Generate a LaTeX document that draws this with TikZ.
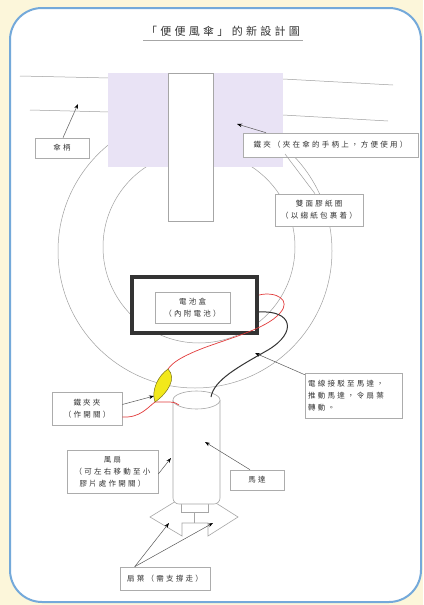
\documentclass[tikz,border=0pt]{standalone}
\usepackage{fontspec}
\newfontfamily\cjk[LetterSpace=30]{Noto Sans CJK TC}
\newfontfamily\cjktitle[LetterSpace=30]{Noto Sans CJK TC}
\usetikzlibrary{arrows.meta}
\definecolor{paper}{HTML}{FCF6DA}
\definecolor{frameblue}{HTML}{74A9DA}
\definecolor{lavender}{HTML}{E9E3F5}
\definecolor{wirered}{HTML}{E23A3A}
\definecolor{clipyellow}{HTML}{F2E81A}
\definecolor{ink}{HTML}{333333}
\begin{document}
\begin{tikzpicture}[x=1pt,y=-1pt,
  thinline/.style={draw=gray!75, line width=0.5pt},
  lbl/.style={draw=gray!65, line width=0.6pt, fill=white, inner sep=1pt,
    text=ink, align=center, font=\cjk\fontsize{7.5}{12}\selectfont},
  arr/.style={draw=gray!70!black, line width=0.5pt,
    -{Stealth[length=5pt,width=3.6pt,color=black]}},
  battbox/.style={draw=ink, line width=4pt, fill=white, inner sep=0pt},
  redwire/.style={draw=wirered, line width=0.7pt},
  blackwire/.style={draw=ink, line width=1pt}]
\useasboundingbox (0,0) rectangle (423,605);
% page and frame
\fill[paper] (0,0) rectangle (423,605);
\draw[frameblue, line width=2pt, fill=white, rounded corners=32] (10,8) rectangle (421,602);

% title
\node[font=\cjktitle\fontsize{11}{13}\selectfont, text=ink] (title) at (223,31) {「便便風傘」的新設計圖};
\draw[gray!70, line width=0.6pt] (143,40) -- (303,40);

% canopy edges
\draw[thinline] (20,76) -- (110,78);
\draw[thinline] (30,110) -- (110,112);
\draw[thinline] (283,79) -- (393,85);
\draw[thinline] (283,115) -- (388,121);

% paper rings
\draw[thinline] (195,251) circle[radius=137];
\draw[thinline] (199,247) circle[radius=96];

% clip area and handle
\fill[lavender] (108,73) rectangle (283,167);
\draw[gray!70, line width=0.6pt, fill=white] (168,73) rectangle (213,221);

% labels
\node[lbl, minimum width=54, minimum height=20] (handle) at (62,148) {傘柄};
\node[lbl, minimum width=175, minimum height=24] (clip) at (330.5,145) {鐵夾（夾在傘的手柄上，方便使用）};
\node[lbl, minimum width=88, minimum height=32] (ring) at (319,210) {雙面膠紙圈\\（以縐紙包裹着）};
\node[battbox, minimum width=125, minimum height=56] (batt) at (194.5,305) {};
\node[lbl, minimum width=75, minimum height=31] (battlbl) at (192.5,307.5) {電池盒\\（內附電池）};
\node[lbl, minimum width=97, minimum height=45, align=left, text width=91] (wire) at (353.5,395.5) {電線接駁至馬達，\\推動馬達，令扇葉\\轉動。};
\node[lbl, minimum width=70, minimum height=33] (switch) at (87,408.5) {鐵夾夾\\（作開關）};
\node[lbl, minimum width=91, minimum height=43] (fan) at (112.5,471.5) {風扇\\（可左右移動至小\\膠片處作開關）};
\node[lbl, minimum width=54, minimum height=20] (motor) at (257,480) {馬達};
\node[lbl, minimum width=90, minimum height=23] (blade) at (165,578.5) {扇葉（需支撐走）};

% fan blades and shaft
\draw[gray!70, line width=0.6pt, fill=white]
  (150,517) -- (181,498) -- (181,503) -- (208,503) -- (208,498) -- (238,517)
  -- (208,536) -- (208,523) -- (182,523) -- (182,536) -- cycle;
\draw[gray!70, line width=0.6pt, fill=white] (181,498) rectangle (208,512);
\draw[gray!70, line width=0.6pt] (194.5,512) -- (194.5,523);

% motor housing
\draw[gray!70, line width=0.6pt, fill=white, rounded corners=6]
  (173,400) -- (173,504) -- (220,504) -- (220,400);
\draw[gray!70, line width=0.6pt, fill=white] (196.5,400) ellipse[x radius=23.5, y radius=9];

% wires
\coordinate (redtop) at (168,369);
\coordinate (redbot) at (155,402);
\coordinate (motorin) at (179,405);
\coordinate (motorblack) at (211,397);
\draw[redwire] ([yshift=10pt]batt.east) .. controls (276,291) and (292,300) .. (280,313)
  .. controls (266,330) and (222,340) .. (196,351)
  .. controls (182,357) and (173,362) .. (redtop);
\draw[blackwire] ([yshift=-7pt]batt.east) .. controls (292,310) and (298,332) .. (268,350)
  .. controls (238,367) and (214,380) .. (motorblack);
\draw[redwire] ([yshift=-8.5pt]switch.east) .. controls (140,418) and (147,408) .. (redbot);
\draw[redwire] (redbot) .. controls (166,402) and (175,401) .. (motorin);
\draw[draw=olive!80!black, line width=0.5pt, fill=clipyellow]
  (redtop) .. controls (177,378) and (168,393) .. (redbot)
  .. controls (151,390) and (158,376) .. (redtop);

% pointers
\coordinate (canopy) at (78,104);
\coordinate (clippad) at (237,124);
\coordinate (ringedge) at (285,154);
\coordinate (wirept) at (255,353);
\coordinate (clippt) at (154,396);
\coordinate (housing) at (171,458);
\coordinate (motorpt) at (205,442);
\coordinate (bladeL) at (169,523);
\coordinate (bladeR) at (213,523);
\draw[arr] ([xshift=1pt]handle.north) -- (canopy);
\draw[arr] ([xshift=-64.5pt]clip.north) -- (clippad);
\draw[thinline] ([xshift=-4pt]ring.north) -- (ringedge);
\draw[arr] ([yshift=-2pt]wire.north west) -- (wirept);
\draw[arr] ([yshift=4pt]switch.east) -- (clippt);
\draw[arr] ([yshift=-2.5pt]fan.east) -- (housing);
\draw[arr] ([xshift=-7pt]motor.north) -- (motorpt);
\draw[arr] ([xshift=15pt]blade.north west) -- (bladeL);
\draw[arr] ([xshift=15pt]blade.north west) -- (bladeR);
\end{tikzpicture}
\end{document}
